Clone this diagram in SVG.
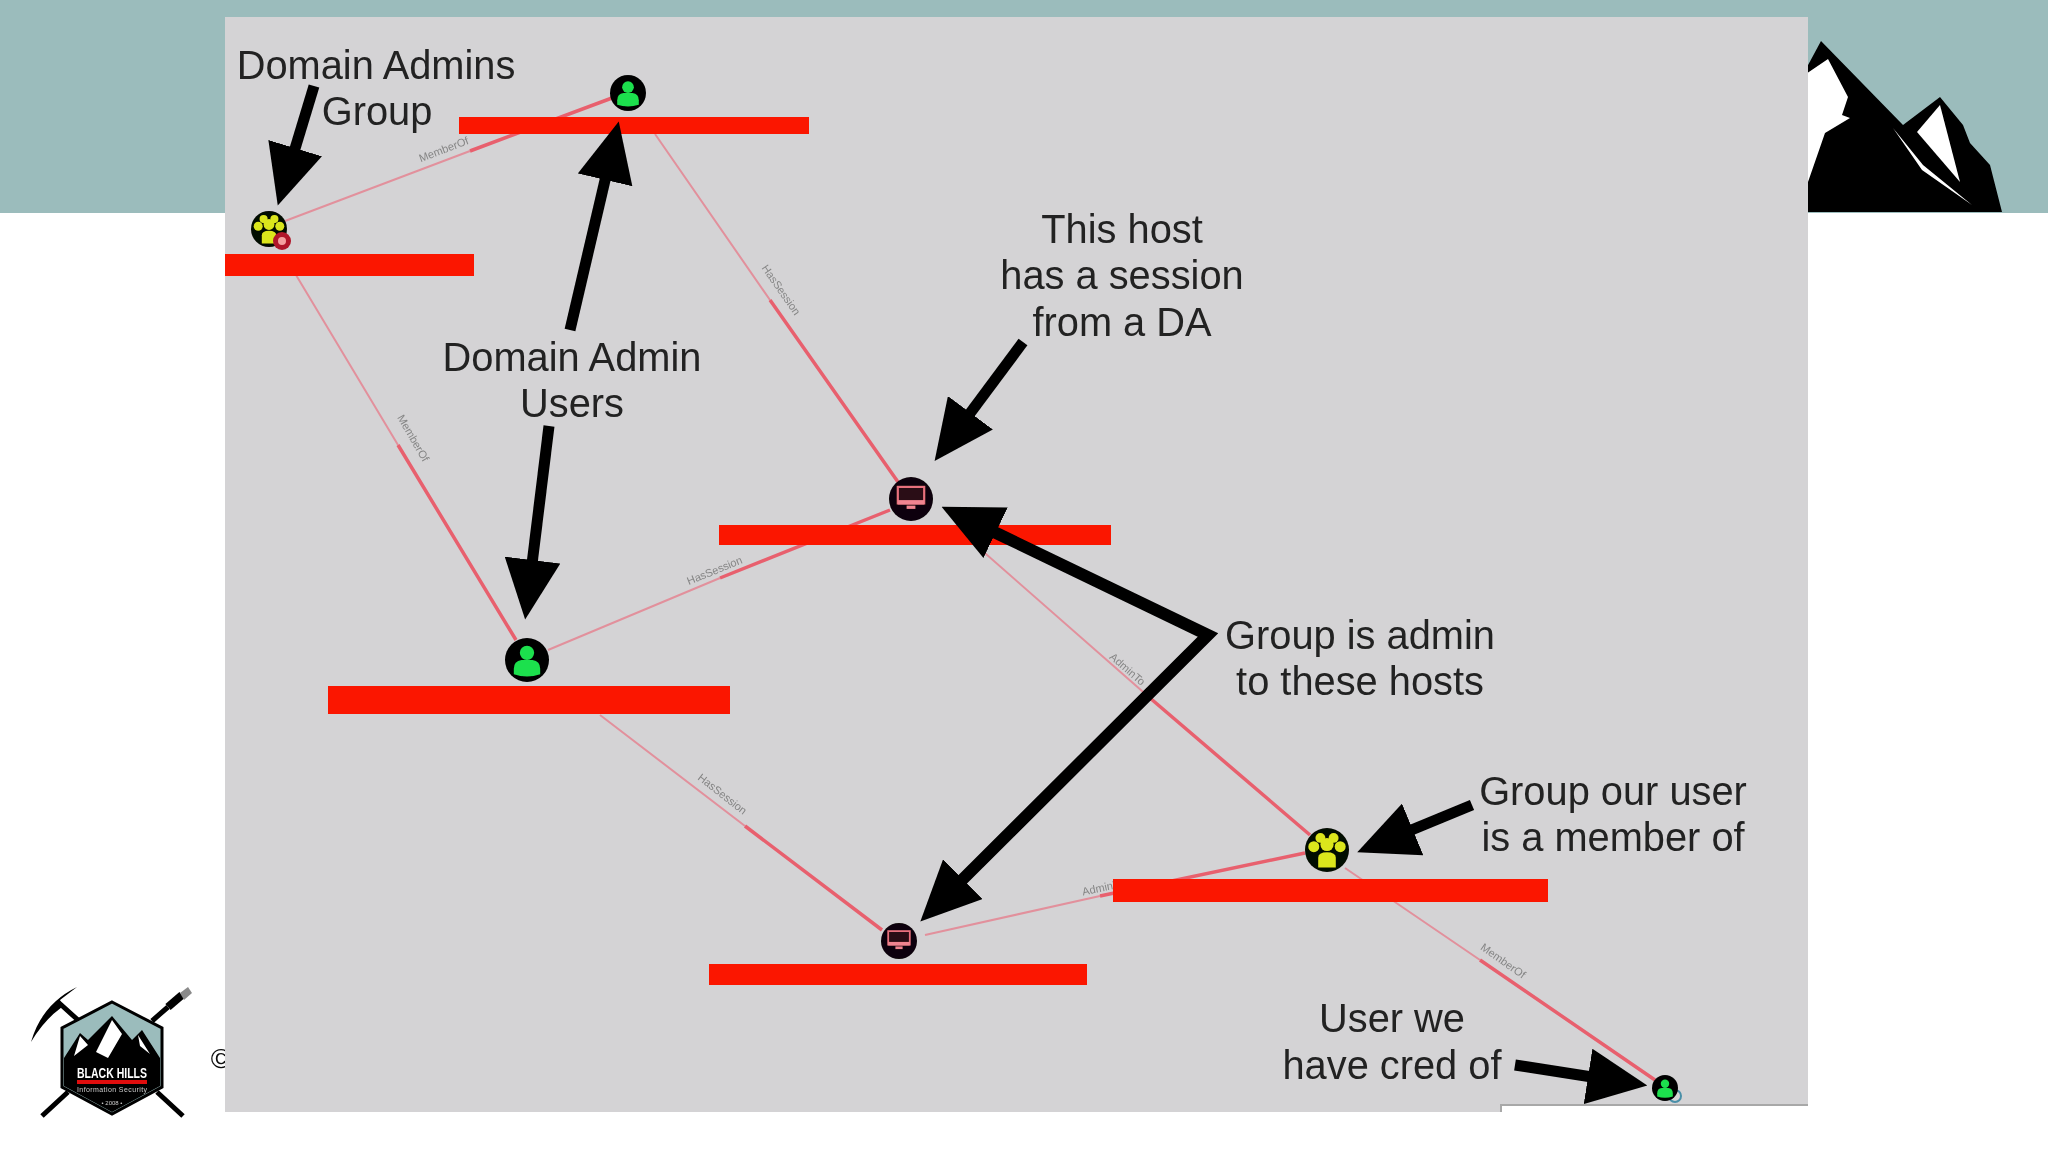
<svg xmlns="http://www.w3.org/2000/svg" xmlns:xlink="http://www.w3.org/1999/xlink" width="2048" height="1152" viewBox="0 0 2048 1152">
<style>
.lbl{font-family:"Liberation Sans",Arial,sans-serif;font-size:39.800px;fill:#242424;text-anchor:middle}
.el{font-family:"Liberation Sans",Arial,sans-serif;font-size:11px;fill:#858585;text-anchor:middle}
.bar{fill:#fb1404}
.thin{stroke:#e2909c;stroke-width:2;fill:none}
.thick{stroke:#e8606e;stroke-width:3.500;fill:none}
.arrow{stroke:#000;stroke-width:11;fill:none;marker-end:url(#head)}
.black{fill:#000}
.white{fill:#fff}
.st{stroke:#000;stroke-linecap:butt;fill:none}
</style>
<defs>
<filter id="soft" x="-5%" y="-5%" width="110%" height="110%"><feGaussianBlur stdDeviation="0.7"/></filter>
<marker id="head" viewBox="0 0 60 56" refX="4" refY="28" markerUnits="userSpaceOnUse" markerWidth="60" markerHeight="56" orient="auto-start-reverse"><path d="M0,0L60,28L0,56Z" fill="#000"/></marker>
<symbol id="user" viewBox="-20 -20 40 40" overflow="visible"><circle r="20" fill="#000"/><circle cy="-6.500" r="6.500" fill="#1fe04e"/><path d="M-12,13V8Q-12,1-5,0H5Q12,1,12,8V13Q0,17-12,13Z" fill="#1fe04e"/></symbol>
<symbol id="host" viewBox="-20 -20 40 40" overflow="visible"><circle r="20" fill="#0c0508"/><rect x="-12" y="-11" width="24" height="15" fill="#2a0d12" stroke="#e8707e" stroke-width="2"/><rect x="-12" y="1" width="24" height="4" fill="#f08490"/><rect x="-4" y="6" width="8" height="3" fill="#f08490"/></symbol>
<symbol id="group" viewBox="-20 -20 40 40" overflow="visible"><circle r="20" fill="#060800"/><g fill="#dbe61f"><circle cx="-12" cy="-3" r="5"/><circle cx="12" cy="-3" r="5"/><circle cx="-6" cy="-11" r="4.500"/><circle cx="6" cy="-11" r="4.500"/><circle cy="-5" r="6"/><path d="M-8,16V7Q-8,2,0,2T8,7V16Z"/></g></symbol>
</defs>
<rect width="2048" height="1152" fill="#fff"/>
<g filter="url(#soft)">
<rect width="2048" height="213" fill="#9bbcbc"/>
<g id="mountain">
<path class="black" d="M1800,80L1821,41L1903,125L1940,97L1963,125L1970,143L1990,165L2002,212H1800Z"/>
<path class="white" d="M1800,78L1828,59L1848,97L1842,115L1850,118L1825,133L1808,182H1800Z"/>
<path class="white" d="M1940,105L1917,132L1960,182Z"/>
<path class="white" d="M1893,128L1923,165L1972,205L1922,170Z"/>
</g>
<text x="221" y="1068" style="font-family:'Liberation Sans',Arial,sans-serif;font-size:28px;fill:#111" text-anchor="middle">©</text>
<g id="logo">
<path class="st" stroke-width="5" d="M58,1002L78,1020M68,1092L42,1116M157,1092L183,1116M152,1021L168,1007"/>
<path class="black" d="M31,1042Q42,1004,77,987L60,1000L62,1007Q44,1020,31,1042Z"/>
<path class="st" stroke-width="8" d="M168,1007L182,995"/>
<path d="M180,993L188,987L192,993L184,1000Z" fill="#8a8a8a"/>
<path d="M112,1002L162,1028V1087L112,1114L62,1087V1028Z" fill="#9bbcbc" stroke="#000" stroke-width="3"/>
<path class="black" d="M64,1058L80,1033L88,1040L112,1016L132,1040L142,1030L160,1058V1086L112,1112L64,1086Z"/>
<path class="white" d="M74,1056L80,1036L88,1045ZM96,1052L112,1020L122,1034L108,1058ZM138,1035L150,1054L140,1046Z"/>
<text x="112" y="1078" text-anchor="middle" style="font-family:'Liberation Sans',Arial,sans-serif;font-size:14px;font-weight:700;fill:#fff" textLength="70" lengthAdjust="spacingAndGlyphs">BLACK HILLS</text>
<rect x="77" y="1080" width="70" height="4" fill="#e01010"/>
<text x="112" y="1092" text-anchor="middle" style="font-family:'Liberation Sans',Arial,sans-serif;font-size:7px;fill:#ccc" textLength="70">Information Security</text>
<text x="112" y="1105" text-anchor="middle" style="font-family:'Liberation Sans',Arial,sans-serif;font-size:6px;fill:#ccc">• 2008 •</text>
</g>
<path d="M225,17H1808V1104H1501V1112H225Z" fill="#d4d3d5"/>
<path d="M1501,1112V1105H1808" fill="none" stroke="#a8a8a8" stroke-width="2"/>
<g id="connectors">
<path class="thin" d="M285,221L470,151M296,275L398,445M655,134L770,300M548,650L720,578M600,715L745,826M970,540L1150,698M925,935L1100,896M1345,868L1480,960"/>
<path class="thick" d="M470,151L612,98M398,445L516,640M770,300L898,482M720,578L890,510M745,826L882,930M1150,698L1310,835M1100,896L1305,853M1480,960L1655,1080"/>
<g id="edge-labels">
<text class="el" transform="translate(445,153) rotate(-21)">MemberOf</text>
<text class="el" transform="translate(410,440) rotate(60)">MemberOf</text>
<text class="el" transform="translate(778,292) rotate(55)">HasSession</text>
<text class="el" transform="translate(716,574) rotate(-22)">HasSession</text>
<text class="el" transform="translate(720,797) rotate(38)">HasSession</text>
<text class="el" transform="translate(1125,672) rotate(41)">AdminTo</text>
<text class="el" transform="translate(1104,891) rotate(-12)">AdminTo</text>
<text class="el" transform="translate(1501,964) rotate(35)">MemberOf</text>
</g>
</g>
<g id="bars">
<rect class="bar" x="225" y="254" width="249" height="22"/>
<rect class="bar" x="459" y="117" width="350" height="17"/>
<rect class="bar" x="719" y="525" width="392" height="20"/>
<rect class="bar" x="328" y="686" width="402" height="28"/>
<rect class="bar" x="709" y="964" width="378" height="21"/>
<rect class="bar" x="1113" y="879" width="435" height="23"/>
</g>
<g id="node-da-group"><use href="#group" x="-18" y="-18" width="36" height="36" transform="translate(269,229)"/><circle cx="282" cy="241" r="9" fill="#b0182a"/><circle cx="282" cy="241" r="4" fill="#f4a0a0"/></g>
<g id="node-user-top"><use href="#user" x="-18" y="-18" width="36" height="36" transform="translate(628,93)"/></g>
<g id="node-host-1"><use href="#host" x="-22" y="-22" width="44" height="44" transform="translate(911,499)"/></g>
<g id="node-user-2"><use href="#user" x="-22" y="-22" width="44" height="44" transform="translate(527,660)"/></g>
<g id="node-host-2"><use href="#host" x="-18" y="-18" width="36" height="36" transform="translate(899,941)"/></g>
<g id="node-group-2"><use href="#group" x="-22" y="-22" width="44" height="44" transform="translate(1327,850)"/></g>
<g id="node-user-3"><circle cx="1675" cy="1096" r="6" fill="none" stroke="#4a8fa8" stroke-width="2"/><use href="#user" x="-13" y="-13" width="26" height="26" transform="translate(1665,1088)"/></g>
<g id="arrows">
<line class="arrow" x1="314" y1="86" x2="294" y2="152"/>
<line class="arrow" x1="570" y1="330" x2="606" y2="176"/>
<line class="arrow" x1="549" y1="426" x2="532" y2="564"/>
<line class="arrow" x1="1023" y1="342" x2="968" y2="416"/>
<path d="M992,531L1208,635L960,882" stroke="#000" stroke-width="12" fill="none" stroke-linejoin="miter" marker-start="url(#head)" marker-end="url(#head)"/>
<line class="arrow" x1="1472" y1="805" x2="1409" y2="831"/>
<line class="arrow" x1="1515" y1="1065" x2="1592" y2="1077"/>
</g>
<g id="labels">
<text class="lbl" x="376" y="79">Domain Admins</text>
<text class="lbl" x="377" y="125">Group</text>
<text class="lbl" x="1122" y="243">This host</text>
<text class="lbl" x="1122" y="289">has a session</text>
<text class="lbl" x="1122" y="336">from a DA</text>
<text class="lbl" x="572" y="371">Domain Admin</text>
<text class="lbl" x="572" y="417">Users</text>
<text class="lbl" x="1360" y="649">Group is admin</text>
<text class="lbl" x="1360" y="695">to these hosts</text>
<text class="lbl" x="1613" y="805">Group our user</text>
<text class="lbl" x="1613" y="851">is a member of</text>
<text class="lbl" x="1392" y="1032">User we</text>
<text class="lbl" x="1392" y="1079">have cred of</text>
</g>
</g>
</svg>
